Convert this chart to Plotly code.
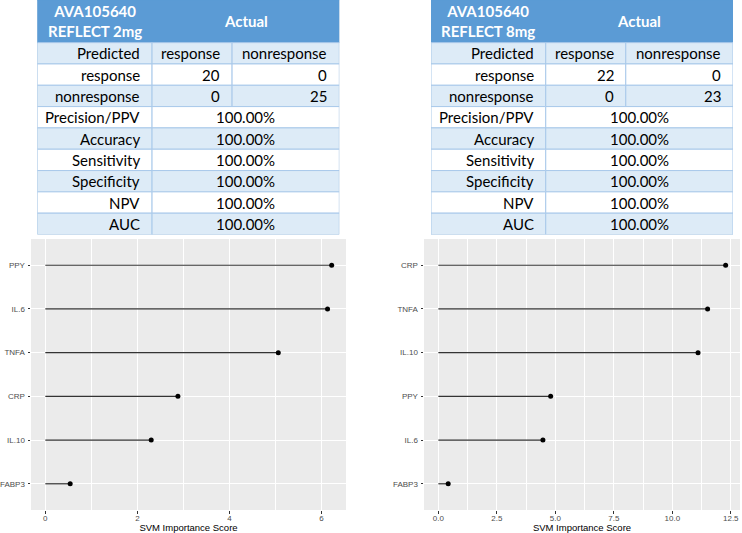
import plotly.graph_objects as go

# ---------------- data ----------------
table_titles = ["AVA105640<br>REFLECT 2mg", "AVA105640<br>REFLECT 8mg"]
actual_label = "Actual"
row_labels = ["Predicted", "response", "nonresponse", "Precision/PPV", "Accuracy",
              "Sensitivity", "Specificity", "NPV", "AUC"]
class_labels = ["response", "nonresponse"]
confusion_2mg = [[20, 0], [0, 25]]
confusion_8mg = [[22, 0], [0, 23]]
metrics_2mg = ["100.00%", "100.00%", "100.00%", "100.00%", "100.00%", "100.00%"]
metrics_8mg = ["100.00%", "100.00%", "100.00%", "100.00%", "100.00%", "100.00%"]

features_2mg = ["FABP3", "IL.10", "CRP", "TNFA", "IL.6", "PPY"]
scores_2mg = [0.54, 2.30, 2.88, 5.06, 6.13, 6.22]
features_8mg = ["FABP3", "IL.6", "PPY", "IL.10", "TNFA", "CRP"]
scores_8mg = [0.42, 4.47, 4.80, 11.10, 11.51, 12.28]

x_title = "SVM Importance Score"

# ---------------- style ----------------
W, H = 742, 533
HEADER_BLUE = "#5B9BD5"
LIGHT_BLUE = "#DDEBF7"
BORDER = "#A9C9EA"
TFONT = "Lato"
PFONT = "Liberation Sans"
col_edges = [0.0, 0.38, 0.645, 1.0]
pad = 0.033

fig = go.Figure()
shapes = []
annotations = []


def px_x(p):
    return p / W


def px_y(p):
    return 1 - p / H


def add_table(ax, title, conf, metrics):
    xr, yr = "x" + ax, "y" + ax
    e0, e1, e2, e3 = col_edges

    def rect(x0, x1, y0, y1, fill, line):
        shapes.append(dict(type="rect", xref=xr, yref=yr, x0=x0, x1=x1, y0=y0, y1=y1,
                           fillcolor=fill, line=dict(color=line, width=1), layer="below"))

    def text(x, y, s, anchor, bold=False, color="black"):
        annotations.append(dict(xref=xr, yref=yr, x=x, y=y, text=("<b>%s</b>" % s) if bold else s,
                                showarrow=False, xanchor=anchor, yanchor="middle",
                                font=dict(family=TFONT, size=15, color=color)))

    # header
    rect(e0, e3, 0, 2, HEADER_BLUE, HEADER_BLUE)
    text((e0 + e1) / 2, 1, title, "center", bold=True, color="white")
    text((e1 + e3) / 2, 1, actual_label, "center", bold=True, color="white")
    for i, lab in enumerate(row_labels):
        y0, y1 = 2 + i, 3 + i
        fill = LIGHT_BLUE if i % 2 == 0 else "white"
        yc = (y0 + y1) / 2
        rect(e0, e1, y0, y1, fill, BORDER)
        text(e1 - pad, yc, lab, "right")
        if i == 0:
            rect(e1, e2, y0, y1, fill, BORDER)
            rect(e2, e3, y0, y1, fill, BORDER)
            text(e2 - pad, yc, class_labels[0], "right")
            text(e3 - pad, yc, class_labels[1], "right")
        elif i <= 2:
            rect(e1, e2, y0, y1, fill, BORDER)
            rect(e2, e3, y0, y1, fill, BORDER)
            text(e2 - pad, yc, str(conf[i - 1][0]), "right")
            text(e3 - pad, yc, str(conf[i - 1][1]), "right")
        else:
            rect(e1, e3, y0, y1, fill, BORDER)
            text((e1 + e3) / 2, yc, metrics[i - 3], "center")


add_table("3", table_titles[0], confusion_2mg, metrics_2mg)
add_table("4", table_titles[1], confusion_8mg, metrics_8mg)

# invisible traces so table axes exist
for ax in ["3", "4"]:
    fig.add_trace(go.Scatter(x=[0, 1], y=[0, 11], mode="markers", marker=dict(opacity=0),
                             xaxis="x" + ax, yaxis="y" + ax, showlegend=False, hoverinfo="skip"))


def lollipop(feats, scores, ax):
    xs, ys = [], []
    for f, s in zip(feats, scores):
        xs += [0, s, None]
        ys += [f, f, None]
    fig.add_trace(go.Scatter(x=xs, y=ys, mode="lines", line=dict(color="#333333", width=1.2),
                             xaxis="x" + ax, yaxis="y" + ax, showlegend=False))
    fig.add_trace(go.Scatter(x=scores, y=feats, mode="markers",
                             marker=dict(color="black", size=5),
                             xaxis="x" + ax, yaxis="y" + ax, showlegend=False))


lollipop(features_2mg, scores_2mg, "")
lollipop(features_8mg, scores_8mg, "2")

ydom = [px_y(510), px_y(239)]
common_x = dict(showgrid=True, gridcolor="white", gridwidth=1.1, zeroline=False,
                ticks="outside", ticklen=2.5, tickcolor="#333333", tickwidth=1,
                tickfont=dict(family=PFONT, size=8, color="#4D4D4D"), ticklabelstandoff=-2,
                title=dict(text=x_title, font=dict(family=PFONT, size=9.5, color="black"), standoff=0),
                showline=False, automargin=False)
common_y = dict(showgrid=True, gridcolor="white", gridwidth=1.1, zeroline=False,
                ticks="outside", ticklen=2.5, tickcolor="#333333", tickwidth=1,
                tickfont=dict(family=PFONT, size=8, color="#4D4D4D"),
                type="category", range=[-0.6, 5.6], showline=False, ticklabelstandoff=1,
                automargin=False)

m2 = max(scores_2mg)
m8 = max(scores_8mg)
fig.update_layout(
    width=W, height=H, margin=dict(l=0, r=0, t=0, b=0, autoexpand=False),
    paper_bgcolor="white", plot_bgcolor="#EBEBEB",
    xaxis=dict(domain=[px_x(31), px_x(346)], range=[-0.05 * m2, 1.05 * m2], dtick=2, tick0=0,
               minor=dict(showgrid=True, gridcolor="white", gridwidth=0.5, dtick=1, tick0=0),
               anchor="y", **common_x),
    yaxis=dict(domain=ydom, anchor="x", categoryorder="array", categoryarray=features_2mg, **common_y),
    xaxis2=dict(domain=[px_x(424), px_x(740)], range=[-0.05 * m8, 1.05 * m8], dtick=2.5, tick0=0,
                tickformat=".1f",
                minor=dict(showgrid=True, gridcolor="white", gridwidth=0.5, dtick=1.25, tick0=0),
                anchor="y2", **common_x),
    yaxis2=dict(domain=ydom, anchor="x2", categoryorder="array", categoryarray=features_8mg, **common_y),
    xaxis3=dict(domain=[px_x(37.3), px_x(339.3)], range=[0, 1], visible=False, anchor="y3",
                automargin=False),
    yaxis3=dict(domain=[px_y(234.5), 1], range=[11, 0], visible=False, anchor="x3",
                automargin=False),
    xaxis4=dict(domain=[px_x(431), px_x(733)], range=[0, 1], visible=False, anchor="y4",
                automargin=False),
    yaxis4=dict(domain=[px_y(234.5), 1], range=[11, 0], visible=False, anchor="x4",
                automargin=False),
    shapes=shapes, annotations=annotations,
)

fig.write_html("out.html", config={"displayModeBar": False},
               post_script="document.body.style.margin='0';document.body.style.padding='0';"
                           "document.body.style.overflow='hidden';")
